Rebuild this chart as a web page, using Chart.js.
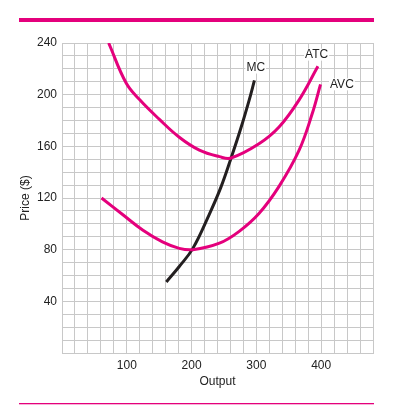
<!DOCTYPE html>
<html>
<head>
<meta charset="utf-8">
<script src="https://cdn.jsdelivr.net/npm/chart.js@4/dist/chart.umd.min.js"></script>
<style>
  html, body { margin: 0; padding: 0; background: #fff; }
  #wrap { width: 394px; height: 416px; position: relative; }
</style>
</head>
<body>
<div id="wrap"><canvas id="costChart"></canvas></div>
<script>
// curves (output, price)
const atcX = [72, 99, 120, 150, 181, 212, 243, 261, 304, 335, 366, 395];
const atcY = [240, 209, 196, 181, 167, 157, 152, 151, 162, 175, 196, 222];
const avcX = [61, 94, 125, 155, 181, 202, 243, 273, 304, 335, 366, 386, 399];
const avcY = [120, 107, 95, 86, 81, 80, 85, 94, 108, 129, 157, 185, 208];
const mcX = [161, 181, 202, 227, 245, 261, 276, 289, 297];
const mcY = [55, 67, 81, 107, 128, 151, 174, 196, 211];

const xTickLabels = [100, 200, 300, 400];
const yTickLabels = [40, 80, 120, 160, 200, 240];

const pink = '#e4007c';
const black = '#231f20';
const gridGray = '#c8c8c8';

function toPoints(xs, ys) {
  return xs.map((x, i) => ({ x: x, y: ys[i] }));
}

const curveLabels = [
  { text: 'MC', x: 299, y: 221 },
  { text: 'ATC', x: 393, y: 231 },
  { text: 'AVC', x: 432, y: 208 }
];

const decorPlugin = {
  id: 'decor',
  afterDatasetsDraw(chart) {
    const ctx = chart.ctx;
    const xs = chart.scales.x;
    const ys = chart.scales.y;
    ctx.save();
    ctx.font = '12px "Liberation Sans", Arial, sans-serif';
    ctx.textAlign = 'center';
    ctx.textBaseline = 'middle';
    curveLabels.forEach(l => {
      const px = xs.getPixelForValue(l.x);
      const py = ys.getPixelForValue(l.y);
      const w = ctx.measureText(l.text).width;
      ctx.fillStyle = '#fff';
      ctx.fillRect(px - w / 2 - 1, py - 6, w + 2, 12);
      ctx.fillStyle = '#222';
      ctx.fillText(l.text, px, py);
    });
    // rules above and below the figure
    ctx.fillStyle = pink;
    ctx.fillRect(19, 18, 355, 4);
    ctx.fillRect(19, 403, 355, 1.3);
    ctx.restore();
  }
};

new Chart(document.getElementById('costChart'), {
  type: 'line',
  data: {
    datasets: [
      { label: 'ATC', data: toPoints(atcX, atcY), borderColor: pink },
      { label: 'AVC', data: toPoints(avcX, avcY), borderColor: pink },
      { label: 'MC', data: toPoints(mcX, mcY), borderColor: black }
    ]
  },
  options: {
    responsive: true,
    maintainAspectRatio: false,
    animation: false,
    layout: { padding: { top: 43, right: 21, left: 0, bottom: 0 } },
    elements: {
      point: { radius: 0 },
      line: { borderWidth: 3, tension: 0.4, borderCapStyle: 'butt', fill: false }
    },
    plugins: {
      legend: { display: false },
      tooltip: { enabled: false }
    },
    scales: {
      x: {
        type: 'linear',
        min: 0,
        max: 480,
        grid: { color: gridGray, lineWidth: 1, drawTicks: false },
        border: { color: gridGray },
        ticks: {
          stepSize: 20,
          autoSkip: false,
          maxRotation: 0,
          padding: 5,
          color: '#222',
          font: { family: '"Liberation Sans", Arial, sans-serif', size: 12 },
          callback: v => xTickLabels.includes(v) ? String(v) : ''
        },
        title: {
          display: true,
          text: 'Output',
          color: '#222',
          font: { family: '"Liberation Sans", Arial, sans-serif', size: 12 },
          padding: { top: 0, bottom: 27 }
        },
        afterFit: s => { s.height = 63; }
      },
      y: {
        min: 0,
        max: 240,
        grid: { color: gridGray, lineWidth: 1, drawTicks: false },
        border: { color: gridGray },
        ticks: {
          stepSize: 10,
          autoSkip: false,
          padding: 5,
          color: '#222',
          font: { family: '"Liberation Sans", Arial, sans-serif', size: 12 },
          callback: v => yTickLabels.includes(v) ? String(v) : ''
        },
        title: {
          display: true,
          text: 'Price ($)',
          color: '#222',
          font: { family: '"Liberation Sans", Arial, sans-serif', size: 12 },
          padding: { top: 18, bottom: 0 }
        },
        afterFit: s => { s.width = 62; }
      }
    }
  },
  plugins: [decorPlugin]
});
</script>
</body>
</html>
